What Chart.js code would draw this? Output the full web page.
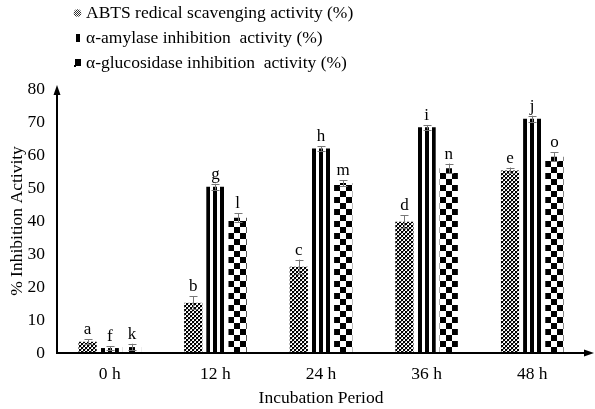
<!DOCTYPE html>
<html><head><meta charset="utf-8">
<script src="https://cdn.jsdelivr.net/npm/chart.js@4.4.0/dist/chart.umd.min.js"></script>
<style>html,body{margin:0;padding:0;background:#fff;}</style>
</head><body>
<canvas id="c" width="595" height="409"></canvas>
<script>
const categories = ['0 h', '12 h', '24 h', '36 h', '48 h'];
const seriesNames = ['ABTS redical scavenging activity (%)', 'α-amylase inhibition  activity (%)', 'α-glucosidase inhibition  activity (%)'];
const abts = [3.4, 15.2, 26.1, 39.8, 55.3];
const abtsErr = [0.8, 2.0, 2.2, 1.9, 0.9];
const amylase = [1.5, 50.4, 62.0, 68.4, 71.0];
const amylaseErr = [0.6, 0.9, 0.7, 0.7, 0.9];
const glucosidase = [1.8, 41.0, 51.5, 56.0, 59.5];
const glucosidaseErr = [1.0, 1.4, 0.9, 1.4, 1.4];
const abtsLetters = ['a', 'b', 'c', 'd', 'e'];
const amylaseLetters = ['f', 'g', 'h', 'i', 'j'];
const glucosidaseLetters = ['k', 'l', 'm', 'n', 'o'];
const yMin = 0, yMax = 80, yStep = 10;
const xTitle = 'Incubation Period';
const yTitle = '% Inhibition Activity';

const SERIF = '"Liberation Serif", "Times New Roman", serif';
const FS = 17.5;
const mainCtx = document.getElementById('c').getContext('2d');

function makeTile(w, h, draw) {
  const c = document.createElement('canvas');
  c.width = w; c.height = h;
  const g = c.getContext('2d');
  g.fillStyle = '#fff'; g.fillRect(0, 0, w, h);
  draw(g);
  return c;
}
const tiles = [
  makeTile(4, 4, g => { g.fillStyle = '#000'; g.fillRect(0, 0, 2, 2); g.fillRect(2, 2, 2, 2); g.fillStyle = '#999'; g.fillRect(2, 0, 1, 1); g.fillRect(0, 2, 1, 1); }),
  makeTile(7, 1, g => { g.fillStyle = '#000'; g.fillRect(0, 0, 4, 1); }),
  makeTile(12, 12, g => { g.fillStyle = '#000'; g.fillRect(0, 0, 6, 6); g.fillRect(6, 6, 6, 6); })
];
const markerTile = makeTile(2, 2, g => { g.fillStyle = '#333'; g.fillRect(0, 0, 1, 1); g.fillRect(1, 1, 1, 1); });
function patternAt(i, dx, dy) {
  const p = mainCtx.createPattern(tiles[i], 'repeat');
  if (p.setTransform) p.setTransform(new DOMMatrix().translate(dx, dy));
  return p;
}
const errs = [abtsErr, amylaseErr, glucosidaseErr];
const letters = [abtsLetters, amylaseLetters, glucosidaseLetters];

// align each bar's pattern with its own left edge and base
const alignPlugin = {
  id: 'alignPatterns',
  beforeDatasetsDraw(chart) {
    chart.data.datasets.forEach((ds, di) => {
      chart.getDatasetMeta(di).data.forEach(el => {
        const left = Math.round(el.x - el.width / 2);
        el.options.backgroundColor = patternAt(di, left, Math.round(el.base));
      });
    });
  }
};

const errorPlugin = {
  id: 'errs',
  afterDatasetsDraw(chart) {
    const ctx = chart.ctx, y = chart.scales.y;
    chart.data.datasets.forEach((ds, di) => {
      const meta = chart.getDatasetMeta(di);
      meta.data.forEach((el, i) => {
        const v = ds.data[i], e = errs[di][i];
        const yt = y.getPixelForValue(v + e), yb = y.getPixelForValue(v - e);
        const cx = Math.round(el.x) + 0.5;
        ctx.save();
        ctx.strokeStyle = '#777'; ctx.lineWidth = 1;
        ctx.beginPath();
        ctx.moveTo(cx, yb); ctx.lineTo(cx, yt);
        ctx.moveTo(cx - 4, Math.round(yt) + 0.5); ctx.lineTo(cx + 4, Math.round(yt) + 0.5);
        ctx.moveTo(cx - 4, Math.round(yb) + 0.5); ctx.lineTo(cx + 4, Math.round(yb) + 0.5);
        ctx.stroke();
        ctx.fillStyle = '#000';
        ctx.font = '17px ' + SERIF;
        ctx.textAlign = 'center'; ctx.textBaseline = 'bottom';
        ctx.fillText(letters[di][i], el.x, yt - 1);
        ctx.restore();
      });
    });
  }
};

const axesPlugin = {
  id: 'axesArrows',
  afterDraw(chart) {
    const ctx = chart.ctx, a = chart.chartArea;
    const x0 = a.left, y0 = a.bottom;
    ctx.save();
    ctx.strokeStyle = '#000'; ctx.fillStyle = '#000'; ctx.lineWidth = 2;
    ctx.beginPath();
    ctx.moveTo(x0, y0); ctx.lineTo(x0, a.top + 2);
    ctx.moveTo(x0 - 1, y0); ctx.lineTo(589, y0);
    ctx.stroke();
    ctx.beginPath();
    ctx.moveTo(x0, a.top - 4); ctx.lineTo(x0 - 3.5, a.top + 6); ctx.lineTo(x0 + 3.5, a.top + 6); ctx.closePath();
    ctx.fill();
    ctx.beginPath();
    ctx.moveTo(594, y0); ctx.lineTo(584, y0 - 3.5); ctx.lineTo(584, y0 + 3.5); ctx.closePath();
    ctx.fill();
    ctx.restore();
  }
};

const legendPlugin = {
  id: 'customLegend',
  afterDraw(chart) {
    const ctx = chart.ctx;
    chart.data.datasets.forEach((ds, i) => {
      const yc = 13 + i * 25;
      ctx.save();
      if (i === 0) {
        ctx.fillStyle = mainCtx.createPattern(markerTile, 'repeat');
        ctx.beginPath(); ctx.arc(77.5, yc, 3.8, 0, Math.PI * 2); ctx.fill();
      } else if (i === 1) {
        ctx.fillStyle = '#000';
        ctx.fillRect(76, yc - 4, 4, 8);
      } else {
        ctx.fillStyle = '#000';
        ctx.fillRect(75, yc - 4, 6, 7);
        ctx.fillRect(74, yc + 2, 2, 2);
      }
      ctx.fillStyle = '#000';
      ctx.font = FS + 'px ' + SERIF;
      ctx.textAlign = 'left'; ctx.textBaseline = 'middle';
      ctx.fillText(ds.label, 86, yc);
      ctx.restore();
    });
  }
};

new Chart(document.getElementById('c'), {
  type: 'bar',
  data: {
    labels: categories,
    datasets: [
      { label: seriesNames[0], data: abts, backgroundColor: () => '#888', borderWidth: 0 },
      { label: seriesNames[1], data: amylase, backgroundColor: () => '#000', borderWidth: 0 },
      { label: seriesNames[2], data: glucosidase, backgroundColor: () => '#000', borderWidth: 0 }
    ]
  },
  options: {
    responsive: false,
    animation: false,
    devicePixelRatio: 1,
    datasets: { bar: { categoryPercentage: 0.63, barPercentage: 0.82 } },
    layout: { padding: { top: 89, right: 10, left: 0, bottom: 0 } },
    plugins: { legend: { display: false }, tooltip: { enabled: false } },
    scales: {
      x: {
        grid: { display: false, drawTicks: false },
        border: { display: false },
        ticks: { color: '#000', font: { family: SERIF, size: FS }, padding: 11 },
        title: { display: true, text: xTitle, color: '#000', font: { family: SERIF, size: FS }, padding: { top: 0, bottom: 0.5 } },
        afterFit: s => { s.height = 56; }
      },
      y: {
        min: yMin, max: yMax,
        grid: { display: false, drawTicks: false },
        border: { display: false },
        ticks: { stepSize: yStep, color: '#000', font: { family: SERIF, size: FS }, padding: 12 },
        title: { display: true, text: yTitle, color: '#000', font: { family: SERIF, size: FS }, padding: { top: 7, bottom: 0 } },
        afterFit: s => { s.width = 57; }
      }
    }
  },
  plugins: [alignPlugin, errorPlugin, axesPlugin, legendPlugin]
});
</script>
</body></html>
